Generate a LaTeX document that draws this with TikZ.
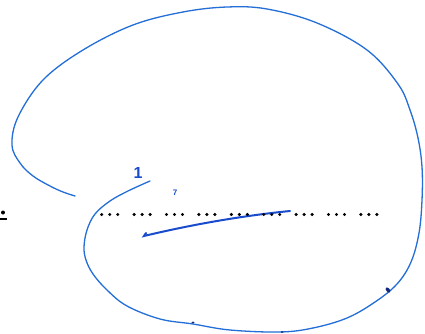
\documentclass[tikz,border=0pt]{standalone}
\usepackage{fontspec}
\setmainfont{Liberation Sans}
\begin{document}
\begin{tikzpicture}[x=1pt,y=-1pt,
  pen/.style={draw={rgb,255:red,35;green,110;blue,215},line width=1.3pt,line cap=round},
  darkpen/.style={draw={rgb,255:red,25;green,75;blue,205},line width=2pt,line cap=round},
  blob/.style={fill={rgb,255:red,20;green,40;blue,120}},
  handmark/.style={text={rgb,255:red,25;green,75;blue,205},inner sep=0pt}]
\useasboundingbox (0,0) rectangle (425,334);
\fill[white] (0,0) rectangle (425,334);
% spiral
\draw[pen] plot[smooth,tension=0.6] coordinates {
 (150,181) (128,191) (110,201) (95,214) (87,230) (84,247) (86,260) (93,274) (107,290)
 (127,306) (160,319) (193,324) (230,330) (280,332) (313,328) (347,318) (375,302)
 (397,284) (411,262) (419,233) (422,200) (422,167) (418,138) (410,110) (398,84) (367,50)
 (317,23) (267,9) (227,7) (183,12) (133,25) (83,50) (43,80) (18,117) (12,145)
 (20,163) (33,176) (50,186) (63,192) (75,196)};
% short inner stroke
\draw[darkpen] (146,233) -- (144,236) .. controls (190,225) and (240,216) .. (290,211);
% dotted line: groups of three
\foreach \g in {0,...,8} {
  \foreach \d in {0,1,2} {
    \fill ({101.7+\g*32.4+\d*8},214.5) circle (1.7pt);
  }
}
% dark marks on the curve
\fill[blob] (193,322.5) ellipse (1.6pt and 1pt);
\fill[blob,rotate around={-50:(388,290)}] (388,290) ellipse (3pt and 1.8pt);
\fill[blob] (282,332) circle (1.2pt);
% small handwritten marks
\node[handmark,font=\bfseries\fontsize{16}{16}\selectfont] (m1) at (138,173) {1};
\node[handmark,font=\bfseries\footnotesize] (m7) at (175,193) {7};
% partial symbol at left edge
\fill (3,212.5) circle (2pt);
\draw[line width=2.2pt] (0,219) -- (7,219);
\end{tikzpicture}
\end{document}
